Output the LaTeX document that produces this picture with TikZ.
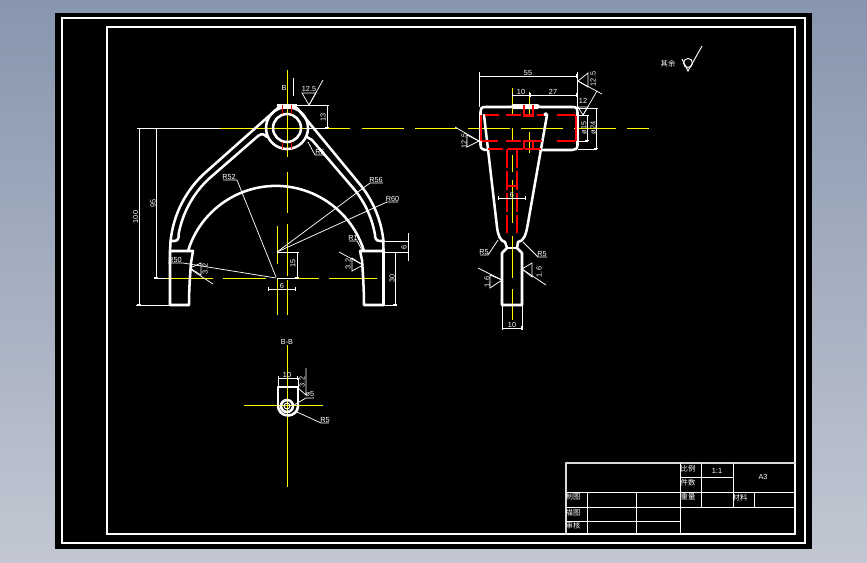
\documentclass[tikz,border=0pt]{standalone}
\usepackage{fontspec}
\setmainfont{Liberation Sans}
\newfontfamily\cjkfont{Noto Sans CJK SC}
\usetikzlibrary{arrows.meta}
\definecolor{skytop}{HTML}{8796AE}
\definecolor{skybot}{HTML}{C2C7D2}
\definecolor{cadyellow}{HTML}{FFFF00}
\definecolor{cadred}{HTML}{FF0000}
\tikzset{
  outline/.style={draw=white, line width=1.9pt, line join=round, line cap=round},
  frameline/.style={draw=white, line width=2pt},
  thinline/.style={draw=white, line width=0.7pt},
  axisline/.style={draw=cadyellow, line width=0.55pt},
  hiddenline/.style={draw=cadred, line width=0.9pt},
  dimline/.style={draw=white, line width=0.55pt, {Bar[width=3pt,line width=0.55pt]}-{Bar[width=3pt,line width=0.55pt]}},
  leader/.style={draw=white, line width=0.55pt},
  dimtext/.style={text=white, inner sep=0pt, font=\fontsize{5.5}{6}\selectfont},
  dimvert/.style={dimtext, rotate=90},
  cjktext/.style={text=white, inner sep=0pt, font=\cjkfont\fontsize{5.5}{6}\selectfont}
}

\begin{document}
\begin{tikzpicture}[x=0.75pt,y=0.75pt]
    \useasboundingbox (0,0) rectangle (867,-562);
    \shade[top color=skytop, bottom color=skybot] (0,0) rectangle (867,-562);
    \fill[black] (55,-13) rectangle (812,-549);
    \draw[thinline, line width=0.9pt] (62,-18) rectangle (805,-543);
    \draw[frameline] (107,-27) rectangle (795,-534);

    \coordinate (hub) at (287,-128);
    \coordinate (c60) at (277,-252);
    \coordinate (c52) at (276,-278);
    \coordinate (sec) at (287,-406);

    % centre lines
    \draw[axisline] (220,-128) -- (350,-128);
    \draw[axisline, dash pattern=on 31.5pt off 8.25pt] (362,-128) -- (649,-128);
    \draw[axisline] (287,-70) -- (287,-157);
    \draw[axisline] (287,-172) -- (287,-213);
    \draw[axisline] (287,-224) -- (287,-276);
    \draw[axisline] (287,-280) -- (287,-315);
    \draw[axisline] (277,-226) -- (277,-264);
    \draw[axisline] (277,-278) -- (277,-315);
    \draw[axisline] (165,-278) -- (213,-278);
    \draw[axisline] (223,-278) -- (266,-278);
    \draw[axisline] (277,-278) -- (319,-278);
    \draw[axisline] (329,-278) -- (377,-278);
    \draw[axisline] (512,-88) -- (512,-115);
    \draw[axisline] (512,-128) -- (512,-142);
    \draw[axisline] (512,-155) -- (512,-172);
    \draw[axisline] (512,-180) -- (512,-223);
    \draw[axisline] (512,-236) -- (512,-278);
    \draw[axisline] (512,-289) -- (512,-320);
    \draw[axisline] (529,-92) -- (529,-115);
    \draw[axisline] (529,-132) -- (529,-153);
    \draw[axisline] (287,-345) -- (287,-487);
    \draw[axisline] (244,-405) -- (323,-405);

    % fork, front view
    \draw[outline] (hub) circle (21);
    \draw[outline] (hub) circle (14);
    \fill[white] (277,-104) rectangle (297,-108.5);
    \draw[outline] (170,-251) -- ([shift={(174:107)}]c60)
      arc (174:131:107) -- (278,-108);
    \draw[outline] (383.5,-251) -- ([shift={(6:107)}]c60)
      arc (6:38.5:107) -- (297,-108);
    \draw[outline] (170.5,-241) -- (174,-241) .. controls (178,-241) and (179,-238) .. ([shift={(170:100)}]c60)
      arc (170:133:100) -- (258,-136) .. controls (262,-133) and (264,-134) .. (267,-137);
    \draw[outline] (383.5,-241) -- (380,-241) .. controls (376,-241) and (375,-238) .. ([shift={(10:99.5)}]c60)
      arc (10:38.5:99.5) -- (312,-140) .. controls (310,-139) and (309,-139) .. (307,-137);
    \draw[outline] (188,-251) arc (163:17:92);
    \draw[outline] (170,-251) -- (193,-251) -- (191,-263) .. controls (190,-275) and (189,-290) .. (189,-305) -- (170,-305) -- cycle;
    \draw[outline] (383.5,-251) -- (360,-251) -- (362,-260) .. controls (363,-275) and (364,-290) .. (364,-305) -- (383.5,-305) -- cycle;
    \draw[hiddenline] (282.5,-105) -- (282.5,-114);
    \draw[hiddenline] (291.7,-105) -- (291.7,-114);
    \draw[hiddenline] (282.5,-142) -- (282.5,-149);
    \draw[hiddenline] (291.7,-142) -- (291.7,-149);

    % front view, dimensions
    \draw[leader] (139,-128) -- (220,-128);
    \draw[leader] (136,-305) -- (170,-305);
    \draw[leader] (154,-278) -- (166,-278);
    \draw[dimline] (139,-128) -- (139,-305);
    \draw[dimline] (156,-128) -- (156,-278);
    \node (dimhundred) [dimvert] at (135.5,-217) {100};
    \node (dimnineFive) [dimvert] at (153,-203) {95};
    \node (markb) [dimtext] at (284,-88) {B};
    \draw[thinline] (293,-78) -- (293,-96);
    \draw[leader] (302,-93) -- (316,-93) -- (309,-105) -- cycle;
    \draw[leader] (309,-105) -- (323,-80);
    \node (roughtop) [dimtext] at (309,-89) {12.5};
    \draw[leader] (297,-105) -- (328,-105);
    \draw[leader] (305,-128) -- (328,-128);
    \draw[dimline] (327,-105) -- (327,-128);
    \node (dimthirteen) [dimvert] at (323,-117) {13};
    \draw[leader] (277,-252) -- (298,-252);
    \draw[leader] (277,-278) -- (298,-278);
    \draw[dimline] (297,-252) -- (297,-278);
    \node (dimfifteen) [dimvert] at (293,-263) {15};
    \draw[dimline] (268,-289) -- (296,-289);
    \node (dimsixb) [dimtext] at (282,-286) {6};
    \draw[leader] (277,-252) -- (370,-183) -- (383,-183);
    \node (rfiftysix) [dimtext] at (376,-180) {R56};
    \draw[leader] (277,-252) -- (387,-202) -- (398,-202);
    \node (rsixty) [dimtext] at (392.5,-199) {R60};
    \draw[leader] (276,-277) -- (237,-180) -- (223,-180);
    \node (rfiftytwo) [dimtext] at (229,-177) {R52};
    \draw[leader] (308,-142) -- (315,-155) -- (325,-155);
    \node (rfiveb) [dimtext] at (320,-152) {R5};
    \draw[leader] (362,-250) -- (357,-241) -- (349,-241);
    \node (rone) [dimtext] at (353,-238) {R1};
    \draw[leader] (276,-278) -- (183,-263) -- (168,-263);
    \node (rfifty) [dimtext] at (175,-260) {R50};
    \draw[leader] (190,-268) -- (201,-263) -- (201,-275) -- cycle;
    \draw[leader] (190,-269) -- (213,-284);
    \node (roughleft) [dimvert] at (205,-269) {3.2};
    \draw[leader] (352,-258) -- (363,-265) -- (352,-271) -- cycle;
    \draw[leader] (363,-265) -- (339,-252);
    \node (roughright) [dimvert] at (348,-264) {3.2};
    \draw[leader] (383,-241) -- (409,-241);
    \draw[leader] (383,-252) -- (408,-252);
    \draw[leader] (408,-233) -- (408,-261);
    \node (dimsix) [dimvert] at (404,-247) {6};
    \draw[leader] (383,-305) -- (397,-305);
    \draw[dimline] (395,-252) -- (395,-305);
    \node (dimthirty) [dimvert] at (392,-278) {30};

    % section B-B
    \node (secname) [dimtext] at (287,-342) {B-B};
    \draw[outline] (278,-406) -- (278,-387) -- (298,-387) -- (298,-406);
    \draw[outline] (278,-406) arc (180:360:10 and 9.5);
    \draw[outline] (sec) circle (6);
    \draw[thinline] (sec) circle (3);
    \draw[dimline] (278,-378) -- (298,-378);
    \draw[leader] (278,-378) -- (278,-387);
    \draw[leader] (298,-378) -- (298,-387);
    \node (secten) [dimtext] at (287,-375) {10};
    \draw[leader] (306,-368) -- (306,-395) -- (298,-388);
    \node (secrough) [dimvert] at (302,-382) {3.2};
    \draw[leader] (294,-405) -- (306,-398) -- (314,-398);
    \node (secdia) [dimtext] at (310,-394.5) {ø5};
    \draw[leader] (297,-412) -- (321,-423) -- (329,-423);
    \node (secrad) [dimtext] at (325,-420) {R5};

    % fork, side view
    \fill[white, rounded corners=2pt] (511,-104) rectangle (540,-109);
    \draw[outline] (511,-107) -- (485,-107) .. controls (481,-107) and (480.5,-109) .. (480.5,-112) -- (480.5,-145) .. controls (480.5,-149) and (483,-150) .. (488,-150);
    \draw[outline] (540,-107) -- (573,-107) .. controls (577,-107) and (577.5,-109) .. (577.5,-112) -- (577.5,-145) .. controls (577.5,-149) and (575,-150) .. (572,-150) -- (540,-150);
    \draw[outline] (484,-115) -- (497,-227) .. controls (498,-235) and (500,-241) .. (505,-242) -- (507,-248) -- (502,-253) -- (502,-305) -- (522,-305) -- (522,-253) -- (517,-248) -- (518,-242) .. controls (524,-241) and (526,-235) .. (528,-223) -- (547,-115) .. controls (547,-113) and (545,-113) .. (544,-115);
    \draw[outline] (507,-248) -- (517,-248);

    % hidden edges
    \draw[hiddenline] (485,-115) -- (499,-115);
    \draw[hiddenline] (506,-115) -- (521,-115);
    \draw[hiddenline] (525,-115) -- (533,-115);
    \draw[hiddenline] (537,-115) -- (544,-115);
    \draw[hiddenline] (557,-115) -- (575,-115);
    \draw[hiddenline] (482,-141) -- (498,-141);
    \draw[hiddenline] (506,-141) -- (521,-141);
    \draw[hiddenline] (524,-141) -- (542,-141);
    \draw[hiddenline] (557,-141) -- (575,-141);
    \draw[hiddenline] (488,-149) -- (503,-149);
    \draw[hiddenline] (508,-149) -- (523,-149);
    \draw[hiddenline] (525,-149) -- (541,-149);
    \draw[hiddenline] (481,-115) -- (481,-141);
    \draw[hiddenline] (576,-115) -- (576,-141);
    \draw[hiddenline] (524,-105) -- (524,-116.5) -- (533,-116.5) -- (533,-105);
    \draw[hiddenline] (524,-149) -- (524,-141) -- (533,-141) -- (533,-149);
    \draw[hiddenline, dash pattern=on 14pt off 2.5pt] (507,-149) -- (507,-233);
    \draw[hiddenline, dash pattern=on 14pt off 2.5pt] (517,-149) -- (517,-233);
    \draw[hiddenline] (507,-186) -- (517,-186);

    % side view, dimensions
    \draw[leader] (479,-72) -- (479,-107);
    \draw[leader] (577,-72) -- (577,-107);
    \draw[dimline] (479,-76) -- (577,-76);
    \node (dimfiftyfive) [dimtext] at (528,-73) {55};
    \draw[leader] (578,-81) -- (588,-73) -- (588,-87) -- cycle;
    \draw[leader] (578,-81) -- (602,-94);
    \node (roughside) [dimvert] at (593,-79) {12.5};
    \draw[dimline] (512,-95) -- (530,-95);
    \draw[dimline] (530,-95) -- (577,-95);
    \node (dimten) [dimtext] at (521,-92) {10};
    \node (dimtwentyseven) [dimtext] at (553,-92) {27};
    \draw[leader] (578,-107) -- (588,-107) -- (583,-115) -- cycle;
    \draw[leader] (583,-115) -- (597,-91);
    \node (roughbore) [dimtext] at (583,-101) {12};
    \draw[leader] (578,-108) -- (597,-108);
    \draw[leader] (576,-115) -- (588,-115);
    \draw[leader] (576,-141) -- (588,-141);
    \draw[leader] (578,-149) -- (597,-149);
    \draw[dimline] (587,-115) -- (587,-141);
    \draw[dimline] (596,-108) -- (596,-149);
    \node (diafifteen) [dimvert] at (584,-128) {ø15};
    \node (diatwentyfour) [dimvert] at (593,-128) {ø24};
    \draw[leader] (467,-135) -- (479,-141) -- (467,-147) -- cycle;
    \draw[leader] (479,-141) -- (455,-127);
    \node (roughbody) [dimvert] at (464,-141) {12.5};
    \draw[dimline] (498,-198) -- (526,-198);
    \node (dimsixc) [dimtext] at (512,-195) {6};
    \draw[leader] (498,-240) -- (488,-255) -- (480,-255);
    \node (rfivel) [dimtext] at (484,-252) {R5};
    \draw[leader] (523,-242) -- (538,-257) -- (547,-257);
    \node (rfiver) [dimtext] at (542,-254) {R5};
    \draw[leader] (522,-269) -- (532,-263) -- (532,-277) -- cycle;
    \draw[leader] (522,-269) -- (546,-285);
    \node (roughr) [dimvert] at (539,-272) {1.6};
    \draw[leader] (502,-280) -- (490,-275) -- (490,-288) -- cycle;
    \draw[leader] (502,-280) -- (478,-268);
    \node (roughl) [dimvert] at (487,-282) {1.6};
    \draw[leader] (502,-305) -- (502,-330);
    \draw[leader] (522,-305) -- (522,-330);
    \draw[dimline] (502,-328) -- (522,-328);
    \node (dimtenb) [dimtext] at (512,-325) {10};

    % general roughness note
    \node (notetext) [cjktext] at (668,-64) {其余};
    \draw[thinline] (688,-63) circle (4.5);
    \draw[thinline] (682,-59) -- (688,-71) -- (702,-46);

    % title block
    \draw[outline, draw=white!85!black] (795,-463) -- (566,-463) -- (566,-534);
    \draw[thinline] (566,-492) -- (795,-492);
    \draw[thinline] (566,-507) -- (795,-507);
    \draw[thinline] (566,-521) -- (680,-521);
    \draw[thinline] (587,-492) -- (587,-534);
    \draw[thinline] (636,-492) -- (636,-534);
    \draw[thinline] (680,-463) -- (680,-534);
    \draw[thinline] (701,-463) -- (701,-507);
    \draw[thinline] (733,-463) -- (733,-507);
    \draw[thinline] (754,-492) -- (754,-507);
    \draw[thinline] (680,-477) -- (733,-477);
    \node (ratio) [cjktext] at (688,-469) {比例};
    \node (ratioval) [dimtext] at (717,-471) {1:1};
    \node (paper) [dimtext] at (763,-477) {A3};
    \node (count) [cjktext] at (688,-483) {件数};
    \node (weight) [cjktext] at (688,-497) {重量};
    \node (stuff) [cjktext] at (740,-498) {材料};
    \node (drawn) [cjktext] at (573,-497) {制图};
    \node (traced) [cjktext] at (573,-513) {描图};
    \node (checked) [cjktext] at (573,-526) {审核};
\end{tikzpicture}
\end{document}
